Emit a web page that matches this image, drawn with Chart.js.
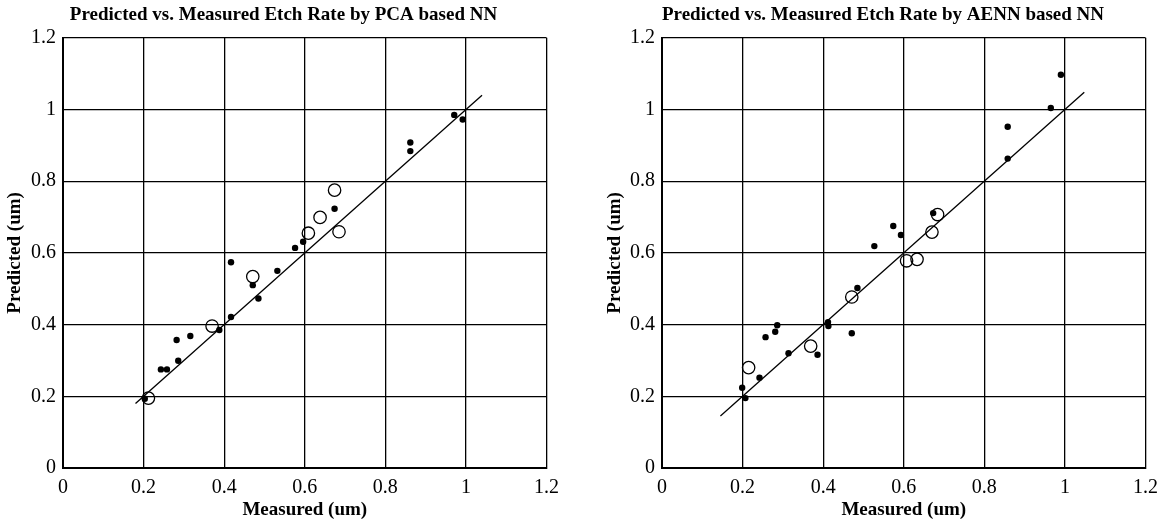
<!DOCTYPE html>
<html>
<head>
<meta charset="utf-8">
<title>Predicted vs. Measured Etch Rate</title>
<script src="https://cdn.jsdelivr.net/npm/chart.js@4.4.0/dist/chart.umd.min.js"></script>
<style>
  html, body { margin: 0; padding: 0; background: #fff; }
  body { width: 1158px; height: 523px; position: relative; overflow: hidden; }
  .panel { position: absolute; top: 0; height: 523px; }
  #pcaPanel { left: 0; width: 567px; }
  #aennPanel { left: 600px; width: 566px; }
</style>
</head>
<body>
<div class="panel" id="pcaPanel"><canvas id="pcaChart"></canvas></div>
<div class="panel" id="aennPanel"><canvas id="aennChart"></canvas></div>
<script>
// shared axis ticks (um)
const tickValues = [0, 0.2, 0.4, 0.6, 0.8, 1, 1.2];

// PCA based NN: small dots and open circles
const pcaDotMeasured  = [0.203, 0.243, 0.258, 0.286, 0.282, 0.316, 0.388, 0.417, 0.417, 0.471, 0.485, 0.532, 0.576, 0.596, 0.674, 0.862, 0.862, 0.971, 0.992];
const pcaDotPredicted = [0.193, 0.275, 0.275, 0.299, 0.357, 0.368, 0.385, 0.421, 0.574, 0.510, 0.473, 0.550, 0.614, 0.631, 0.723, 0.884, 0.908, 0.985, 0.972];
const pcaCircleMeasured  = [0.212, 0.370, 0.471, 0.609, 0.638, 0.674, 0.685];
const pcaCirclePredicted = [0.195, 0.396, 0.534, 0.655, 0.699, 0.775, 0.659];
const pcaFitLine = [0.18, 1.04];

// AENN based NN
const aennDotMeasured  = [0.199, 0.207, 0.242, 0.257, 0.281, 0.286, 0.314, 0.386, 0.412, 0.413, 0.471, 0.485, 0.527, 0.574, 0.593, 0.673, 0.858, 0.858, 0.965, 0.990];
const aennDotPredicted = [0.224, 0.195, 0.252, 0.365, 0.380, 0.398, 0.320, 0.316, 0.407, 0.396, 0.376, 0.502, 0.619, 0.675, 0.650, 0.711, 0.863, 0.952, 1.004, 1.097];
const aennCircleMeasured  = [0.215, 0.369, 0.471, 0.607, 0.633, 0.670, 0.684];
const aennCirclePredicted = [0.280, 0.340, 0.477, 0.578, 0.582, 0.658, 0.707];
const aennFitLine = [0.145, 1.048];

const serif = "'Liberation Serif', 'Times New Roman', serif";

function toPoints(xs, ys) {
  return xs.map((x, i) => ({ x: x, y: ys[i] }));
}

function axis(titleText, isX, fitSize) {
  return {
    type: 'linear',
    min: 0,
    max: 1.2,
    afterBuildTicks: (scale) => { scale.ticks = tickValues.map(v => ({ value: v })); },
    afterFit: (scale) => {
      if (isX) scale.height = fitSize; else scale.width = fitSize;
    },
    grid: { color: '#000', lineWidth: 1.3, drawTicks: false },
    border: { display: true, color: '#000', width: 2 },
    ticks: {
      color: '#000',
      padding: isX ? 8 : 7,
      font: { family: serif, size: 20 },
      callback: (v) => String(v)
    },
    title: {
      display: true,
      text: titleText,
      color: '#000',
      font: { family: serif, size: 19, weight: 'bold' },
      padding: isX ? { top: 0, bottom: 2 } : { top: 4, bottom: 0 }
    }
  };
}

function makeChart(canvasId, titleText, dots, circles, fit, yAxisWidth) {
  new Chart(document.getElementById(canvasId), {
    type: 'scatter',
    data: {
      datasets: [
        {
          data: dots,
          order: 1,
          pointRadius: 3.2,
          pointBackgroundColor: '#000',
          pointBorderColor: '#000',
          pointBorderWidth: 0
        },
        {
          data: circles,
          order: 2,
          pointRadius: 6.2,
          pointBackgroundColor: 'rgba(0,0,0,0)',
          pointBorderColor: '#000',
          pointBorderWidth: 1.3
        },
        {
          data: toPoints(fit, fit),
          order: 3,
          showLine: true,
          borderColor: '#000',
          borderWidth: 1.3,
          pointRadius: 0
        }
      ]
    },
    options: {
      responsive: true,
      maintainAspectRatio: false,
      animation: false,
      events: [],
      layout: { padding: 0 },
      plugins: {
        legend: { display: false },
        tooltip: { enabled: false },
        title: {
          display: true,
          text: titleText,
          color: '#000',
          font: { family: serif, size: 19, weight: 'bold' },
          padding: { top: 4, bottom: 11 }
        }
      },
      scales: {
        x: axis('Measured (um)', true, 55),
        y: axis('Predicted (um)', false, yAxisWidth)
      }
    }
  });
}

makeChart('pcaChart', 'Predicted vs. Measured Etch Rate by PCA based NN',
  toPoints(pcaDotMeasured, pcaDotPredicted),
  toPoints(pcaCircleMeasured, pcaCirclePredicted),
  pcaFitLine, 63);

makeChart('aennChart', 'Predicted vs. Measured Etch Rate by AENN based NN',
  toPoints(aennDotMeasured, aennDotPredicted),
  toPoints(aennCircleMeasured, aennCirclePredicted),
  aennFitLine, 62);
</script>
</body>
</html>
